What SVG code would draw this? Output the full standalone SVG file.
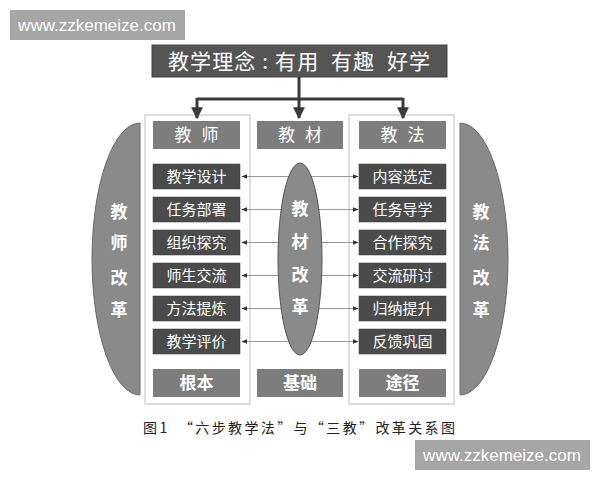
<svg xmlns="http://www.w3.org/2000/svg" width="600" height="480" viewBox="0 0 600 480">
<defs>
<style>
.wm{fill:#a6a6a6}
.wmt{font-family:"Liberation Sans",Arial,sans-serif;font-size:17px;fill:#fff}
.cjk{font-family:"Noto Sans CJK SC","Noto Sans",sans-serif}
.row{fill:#4b4b4b;stroke:#3a3a3a;stroke-width:0.5}
.hdr{fill:#7d7d7d}
.rt{font-size:15px;fill:#fff;text-anchor:middle}
.ht{font-size:17px;fill:#fff;text-anchor:middle;letter-spacing:10px}
.bt{font-size:17px;fill:#fff;text-anchor:middle;font-weight:bold}
.side{font-size:17px;fill:#fff;text-anchor:middle;font-weight:bold}
.box{fill:none;stroke:#c9c9c9;stroke-width:1.2}
.arc{fill:#8a8a8a;stroke:#6a6a6a;stroke-width:1}
.main{fill:none;stroke:#3a3a3a;stroke-width:3}
.dbl{fill:none;stroke:#9a9a9a;stroke-width:1.2}
</style>
<marker id="ah" viewBox="0 0 10 10" refX="9" refY="5" markerWidth="4" markerHeight="4" orient="auto" markerUnits="strokeWidth">
<path d="M0,0 L10,5 L0,10 Z" fill="#3a3a3a"/>
</marker>
<marker id="sm" viewBox="0 0 10 10" refX="9" refY="5" markerWidth="5" markerHeight="5" orient="auto-start-reverse" markerUnits="strokeWidth">
<path d="M0,1 L10,5 L0,9 Z" fill="#333"/>
</marker>
</defs>
<rect width="600" height="480" fill="#fff"/>

<g id="watermark-top">
<rect class="wm" x="10" y="10" width="175" height="30"/>
<text class="wmt" x="97" y="31" text-anchor="middle">www.zzkemeize.com</text>
</g>

<g id="title">
<rect x="152" y="45" width="295" height="32" fill="#555" stroke="#444"/>
<text class="cjk" x="168" y="69" font-size="21" fill="#fff" textLength="262" lengthAdjust="spacing" xml:space="preserve" style="white-space:pre">教学理念 : 有用  有趣  好学</text>
</g>

<g id="left-arc">
<path class="arc" d="M140,123 A48,136 0 0 0 140,395 Z"/>
<text class="cjk side" x="119" y="218">教</text>
<text class="cjk side" x="119" y="249">师</text>
<text class="cjk side" x="119" y="284">改</text>
<text class="cjk side" x="119" y="316">革</text>
</g>

<g id="right-arc">
<path class="arc" d="M460,123 A48,136 0 0 1 460,395 Z"/>
<text class="cjk side" x="481" y="218">教</text>
<text class="cjk side" x="481" y="249">法</text>
<text class="cjk side" x="481" y="284">改</text>
<text class="cjk side" x="481" y="316">革</text>
</g>

<g id="left-column">
<rect class="box" x="145" y="115" width="105" height="289"/>
</g>
<g id="right-column">
<rect class="box" x="349" y="115" width="105" height="289"/>
</g>

<g id="connectors">
<line class="main" x1="299" y1="77" x2="299" y2="99"/>
<line class="main" x1="197" y1="99" x2="403" y2="99"/>
<line class="main" x1="197" y1="98" x2="197" y2="118" marker-end="url(#ah)"/>
<line class="main" x1="299" y1="98" x2="299" y2="118" marker-end="url(#ah)"/>
<line class="main" x1="403" y1="98" x2="403" y2="118" marker-end="url(#ah)"/>
<line class="dbl" x1="242" y1="176.5" x2="358" y2="176.5" marker-start="url(#sm)" marker-end="url(#sm)"/>
<line class="dbl" x1="242" y1="209.5" x2="358" y2="209.5" marker-start="url(#sm)" marker-end="url(#sm)"/>
<line class="dbl" x1="242" y1="242.5" x2="358" y2="242.5" marker-start="url(#sm)" marker-end="url(#sm)"/>
<line class="dbl" x1="242" y1="275.5" x2="358" y2="275.5" marker-start="url(#sm)" marker-end="url(#sm)"/>
<line class="dbl" x1="242" y1="308.5" x2="358" y2="308.5" marker-start="url(#sm)" marker-end="url(#sm)"/>
<line class="dbl" x1="242" y1="341.5" x2="358" y2="341.5" marker-start="url(#sm)" marker-end="url(#sm)"/>
</g>

<g id="middle-ellipse">
<ellipse cx="300" cy="259" rx="22" ry="96" fill="#8a8a8a" stroke="#555" stroke-width="1"/>
<text class="cjk side" x="300" y="215">教</text>
<text class="cjk side" x="300" y="248">材</text>
<text class="cjk side" x="300" y="281">改</text>
<text class="cjk side" x="300" y="313">革</text>
</g>

<g id="header-jiaoshi"><rect class="hdr" x="153" y="121" width="87" height="28"/><text class="cjk ht" x="201.5" y="141">教师</text></g>
<g id="header-jiaocai"><rect class="hdr" x="257" y="121" width="86" height="28"/><text class="cjk ht" x="305" y="141">教材</text></g>
<g id="header-jiaofa"><rect class="hdr" x="359" y="121" width="87" height="28"/><text class="cjk ht" x="407.5" y="141">教法</text></g>

<g id="l1"><rect class="row" x="153" y="164" width="87" height="25"/><text class="cjk rt" x="196.5" y="182">教学设计</text></g>
<g id="l2"><rect class="row" x="153" y="197" width="87" height="25"/><text class="cjk rt" x="196.5" y="215">任务部署</text></g>
<g id="l3"><rect class="row" x="153" y="230" width="87" height="25"/><text class="cjk rt" x="196.5" y="248">组织探究</text></g>
<g id="l4"><rect class="row" x="153" y="263" width="87" height="25"/><text class="cjk rt" x="196.5" y="281">师生交流</text></g>
<g id="l5"><rect class="row" x="153" y="296" width="87" height="25"/><text class="cjk rt" x="196.5" y="314">方法提炼</text></g>
<g id="l6"><rect class="row" x="153" y="329" width="87" height="25"/><text class="cjk rt" x="196.5" y="347">教学评价</text></g>

<g id="r1"><rect class="row" x="359" y="164" width="87" height="25"/><text class="cjk rt" x="402.5" y="182">内容选定</text></g>
<g id="r2"><rect class="row" x="359" y="197" width="87" height="25"/><text class="cjk rt" x="402.5" y="215">任务导学</text></g>
<g id="r3"><rect class="row" x="359" y="230" width="87" height="25"/><text class="cjk rt" x="402.5" y="248">合作探究</text></g>
<g id="r4"><rect class="row" x="359" y="263" width="87" height="25"/><text class="cjk rt" x="402.5" y="281">交流研讨</text></g>
<g id="r5"><rect class="row" x="359" y="296" width="87" height="25"/><text class="cjk rt" x="402.5" y="314">归纳提升</text></g>
<g id="r6"><rect class="row" x="359" y="329" width="87" height="25"/><text class="cjk rt" x="402.5" y="347">反馈巩固</text></g>

<g id="b-genben"><rect class="hdr" x="153" y="369" width="87" height="28"/><text class="cjk bt" x="196.5" y="389">根本</text></g>
<g id="b-jichu"><rect class="hdr" x="257" y="369" width="86" height="28"/><text class="cjk bt" x="300" y="389">基础</text></g>
<g id="b-tujing"><rect class="hdr" x="359" y="369" width="87" height="28"/><text class="cjk bt" x="402.5" y="389">途径</text></g>

<g id="caption">
<text class="cjk" x="143" y="433" font-size="14" fill="#222" textLength="312" lengthAdjust="spacing">图1　“六步教学法”与“三教”改革关系图</text>
</g>

<g id="watermark-bottom">
<rect class="wm" x="415" y="440" width="175" height="30"/>
<text class="wmt" x="502" y="461" text-anchor="middle">www.zzkemeize.com</text>
</g>
</svg>
